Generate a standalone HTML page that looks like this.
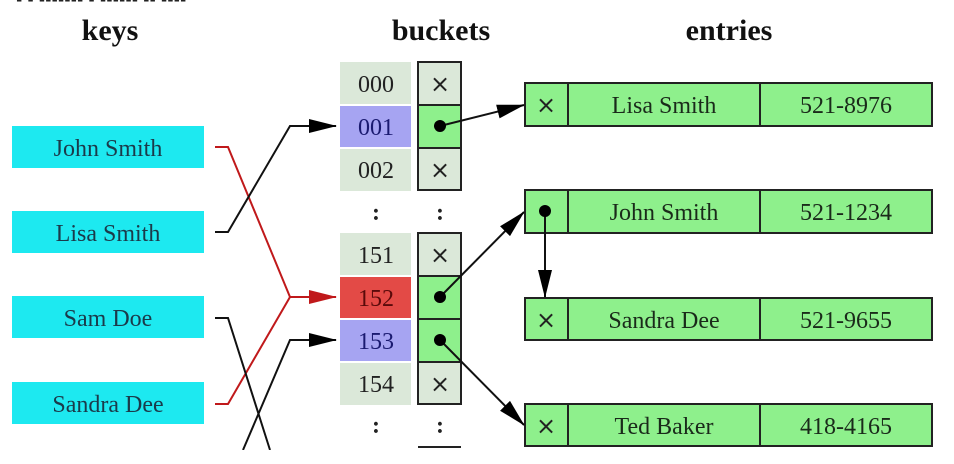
<!DOCTYPE html>
<html><head><meta charset="utf-8"><style>
html,body{margin:0;padding:0;background:#fff;}
svg{display:block;font-family:"Liberation Serif",serif;}
</style></head><body>
<svg width="954" height="464" viewBox="0 0 954 464" xmlns="http://www.w3.org/2000/svg">
<defs>
<marker id="abig" markerWidth="28" markerHeight="14" refX="27" refY="7" orient="auto" markerUnits="userSpaceOnUse"><path d="M0,0 L28,7 L0,14 z" fill="#000"/></marker>
<marker id="ar" markerWidth="28" markerHeight="14" refX="27" refY="7" orient="auto" markerUnits="userSpaceOnUse"><path d="M0,0 L28,7 L0,14 z" fill="#c0191b"/></marker>
</defs>
<text x="16" y="5" font-size="18" font-weight="bold" fill="#222" font-family="Liberation Sans,sans-serif">▪ ▪ ▪▪▪▪▪▪▪ ▪ ▪▪▪▪▪▪ ▪▪ ▪▪▪▪</text>
<g font-weight="bold" font-size="30" text-anchor="middle" fill="#111">
<text x="110" y="40">keys</text><text x="441" y="40">buckets</text><text x="729" y="40">entries</text>
</g>
<g fill="#1de9f0">
<rect x="12" y="126" width="192" height="42"/><rect x="12" y="211" width="192" height="42"/>
<rect x="12" y="296" width="192" height="42"/><rect x="12" y="382" width="192" height="42"/>
</g>
<g font-size="24" text-anchor="middle" fill="#1b3a4a">
<text x="108" y="156">John Smith</text><text x="108" y="241">Lisa Smith</text>
<text x="108" y="326">Sam Doe</text><text x="108" y="412">Sandra Dee</text>
</g>
<g fill="#dbe8d9">
<rect x="340" y="62" width="71" height="42"/><rect x="340" y="149" width="71" height="42"/>
<rect x="340" y="233" width="71" height="42"/><rect x="340" y="363" width="71" height="42"/>
</g>
<rect x="340" y="106" width="71" height="41" fill="#a6a4f2"/>
<rect x="340" y="277" width="71" height="41" fill="#e34a46"/>
<rect x="340" y="320" width="71" height="41" fill="#a6a4f2"/>
<g font-size="24" text-anchor="middle" fill="#222">
<text x="376" y="92">000</text><text x="376" y="135" fill="#1a1a70">001</text><text x="376" y="178">002</text>
<text x="376" y="263">151</text><text x="376" y="306" fill="#5a0a0a">152</text><text x="376" y="349" fill="#1a1a70">153</text><text x="376" y="392">154</text>
<text x="376" y="220" font-weight="bold">:</text><text x="376" y="433" font-weight="bold">:</text>
<text x="440" y="220" font-weight="bold">:</text><text x="440" y="433" font-weight="bold">:</text>
</g>
<g stroke="#222" stroke-width="2">
<rect x="418" y="62" width="43" height="43" fill="#dbe8d9"/>
<rect x="418" y="105" width="43" height="43" fill="#8ef08c"/>
<rect x="418" y="148" width="43" height="42" fill="#dbe8d9"/>
<rect x="418" y="233" width="43" height="43" fill="#dbe8d9"/>
<rect x="418" y="276" width="43" height="43" fill="#8ef08c"/>
<rect x="418" y="319" width="43" height="43" fill="#8ef08c"/>
<rect x="418" y="362" width="43" height="42" fill="#dbe8d9"/>
<line x1="418" y1="447" x2="461" y2="447"/>
</g>
<g font-size="24" text-anchor="middle" fill="#222" font-family="DejaVu Sans,sans-serif">
<text x="440" y="92">×</text><text x="440" y="178">×</text><text x="440" y="263">×</text><text x="440" y="392">×</text>
</g>
<g stroke="#222" stroke-width="2" fill="#8ef08c">
<rect x="525" y="83" width="407" height="43"/><rect x="525" y="190" width="407" height="43"/>
<rect x="525" y="298" width="407" height="42"/><rect x="525" y="404" width="407" height="42"/>
<line x1="568" y1="83" x2="568" y2="126"/><line x1="760" y1="83" x2="760" y2="126"/>
<line x1="568" y1="190" x2="568" y2="233"/><line x1="760" y1="190" x2="760" y2="233"/>
<line x1="568" y1="298" x2="568" y2="340"/><line x1="760" y1="298" x2="760" y2="340"/>
<line x1="568" y1="404" x2="568" y2="446"/><line x1="760" y1="404" x2="760" y2="446"/>
</g>
<g font-size="24" text-anchor="middle" fill="#1a2a1a">
<text x="664" y="113">Lisa Smith</text><text x="846" y="113">521-8976</text>
<text x="664" y="220">John Smith</text><text x="846" y="220">521-1234</text>
<text x="664" y="328">Sandra Dee</text><text x="846" y="328">521-9655</text>
<text x="664" y="434">Ted Baker</text><text x="846" y="434">418-4165</text>
</g>
<g font-size="24" text-anchor="middle" fill="#222" font-family="DejaVu Sans,sans-serif">
<text x="546" y="113">×</text><text x="546" y="328">×</text><text x="546" y="434">×</text>
</g>
<g fill="none" stroke-width="2">
<polyline points="215,147 228,147 290,297 336,297" stroke="#c0191b" marker-end="url(#ar)"/>
<polyline points="215,404 228,404 290,297" stroke="#c0191b"/>
<polyline points="215,232 228,232 290,126 336,126" stroke="#111" marker-end="url(#abig)"/>
<polyline points="215,318 228,318 270,450" stroke="#111"/>
<polyline points="243,450 290,340 336,340" stroke="#111" marker-end="url(#abig)"/>
<line x1="440" y1="126" x2="524" y2="105" stroke="#111" marker-end="url(#abig)"/>
<line x1="440" y1="297" x2="524" y2="212" stroke="#111" marker-end="url(#abig)"/>
<line x1="440" y1="340" x2="524" y2="425" stroke="#111" marker-end="url(#abig)"/>
<line x1="545" y1="211" x2="545" y2="297" stroke="#111" marker-end="url(#abig)"/>
</g>
<g fill="#000">
<circle cx="440" cy="126" r="6"/><circle cx="440" cy="297" r="6"/><circle cx="440" cy="340" r="6"/><circle cx="545" cy="211" r="6"/>
</g>
<rect x="0" y="450" width="954" height="14" fill="#fff"/>
</svg>
</body></html>
